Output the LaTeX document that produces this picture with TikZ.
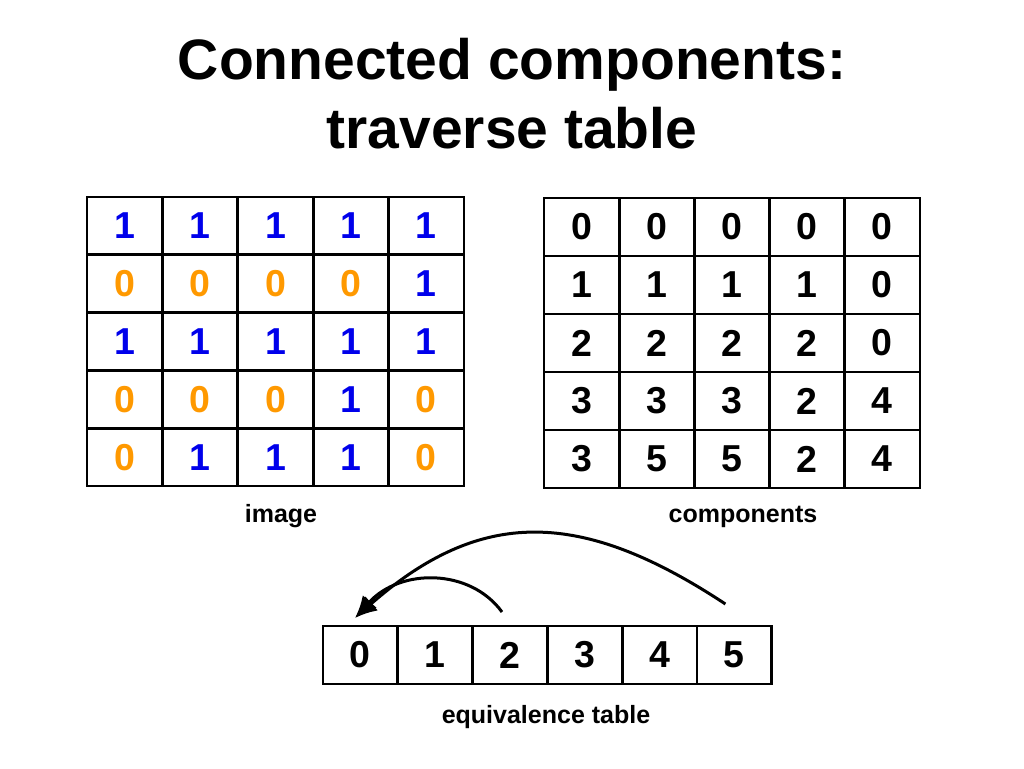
\documentclass[tikz,border=0pt]{standalone}
\usepackage{fontspec}
\setmainfont{Liberation Sans}
\usetikzlibrary{arrows.meta}
\definecolor{myblue}{RGB}{0,0,235}
\definecolor{myorange}{RGB}{255,153,0}
\tikzset{
  lcell/.style={draw=black, line width=2.8pt, minimum width=75.4pt, minimum height=57.8pt, inner sep=0pt, outer sep=0pt, font=\fontsize{37.5}{40}\selectfont\bfseries},
  rcell/.style={lcell, minimum width=75.2pt, minimum height=58pt},
  ecell/.style={lcell, minimum width=74.8pt, minimum height=58pt},
  v0/.style={text=myorange},
  v1/.style={text=myblue},
  lbl/.style={anchor=base, inner sep=0pt, font=\fontsize{25}{28}\selectfont\bfseries},
  ttl/.style={align=center, inner sep=0pt, font=\fontsize{57}{69}\selectfont\bfseries},
  arcarrow/.style={line width=3pt, -{Latex[length=22pt,width=19pt]}}
}
\begin{document}
\begin{tikzpicture}[x=1pt,y=-1pt]
\useasboundingbox[fill=white] (0,0) rectangle (1024,768);
% title
\node[ttl, anchor=base] (title1) at (512,79) {Connected components:};
\node[ttl, anchor=base] (title2) at (512,148) {traverse table};
% image table
\foreach \row [count=\r] in {{1,1,1,1,1},{0,0,0,0,1},{1,1,1,1,1},{0,0,0,1,0},{0,1,1,1,0}}{
  \foreach \v [count=\c] in \row {
    \node[lcell, v\v] (L-\r-\c) at ({87+(\c-0.5)*75.4},{197+(\r-0.5)*57.8}) {\v};
  }
}
% components table
\foreach \row [count=\r] in {{0,0,0,0,0},{1,1,1,1,0},{2,2,2,2,0},{3,3,3,2,4},{3,5,5,2,4}}{
  \foreach \v [count=\c] in \row {
    \node[rcell] (R-\r-\c) at ({544+(\c-0.5)*75.2},{198+(\r-0.5)*58}) {\v};
  }
}
% equivalence table
\foreach \v [count=\c] in {0,1,2,3,4,5}{
  \node[ecell] (E-\c) at ({323+(\c-0.5)*74.8},655) {\v};
}
% labels
\node[lbl] (limg) at (281,522) {image};
\node[lbl] (lcomp) at (743,522) {components};
\node[lbl] (leq) at (546,723) {equivalence table};
% arcs
\coordinate (tip) at (355,618);
\draw[arcarrow] ([xshift=-8pt,yshift=14pt]E-3.north) .. controls (470,568) and (400,568) .. (tip);
\draw[arcarrow] ([xshift=-9pt,yshift=22pt]E-6.north) .. controls (580,508) and (480,508) .. (tip);
\end{tikzpicture}
\end{document}
